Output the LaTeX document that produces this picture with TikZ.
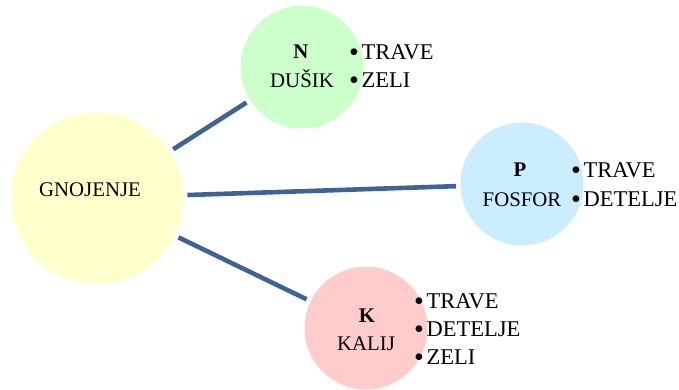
\documentclass[tikz,border=0pt]{standalone}
\usepackage{fontspec}
\setmainfont{Liberation Serif}
\begin{document}
\begin{tikzpicture}[x=1pt,y=-1pt,
  blob/.style={circle,draw=none,inner sep=0pt,outer sep=4.5pt,minimum size=#1},
  link/.style={draw={rgb,255:red,64;green,99;blue,151},line width=4.6pt},
  inner/.style={inner sep=0pt,anchor=base,font=\fontsize{20.8}{24}\selectfont},
  item/.style={inner sep=0pt,anchor=base west,font=\fontsize{22.5}{26}\selectfont}]
\useasboundingbox (0,0) rectangle (679,390);
\definecolor{cyellow}{RGB}{255,255,204}
\definecolor{cgreen}{RGB}{204,255,204}
\definecolor{cblue}{RGB}{204,236,255}
\definecolor{cpink}{RGB}{255,204,204}
% circles
\node[blob=172pt,fill=cyellow] (g) at (97,198) {};
\node[blob=123pt,fill=cgreen] (n) at (302,67) {};
\node[blob=123pt,fill=cblue] (p) at (522,184) {};
\node[blob=123pt,fill=cpink] (k) at (366,328) {};
% connectors
\draw[link] (g) -- (n);
\draw[link] (g) -- (p);
\draw[link] (g) -- (k);
% circle labels
\node[inner] (gt) at (90,196) {GNOJENJE};
\node[inner] (nt) at (301,59) {\textbf{N}};
\node[inner] (ns) at (302,88) {DUŠIK};
\node[inner] (pt) at (520,176) {\textbf{P}};
\node[inner] (ps) at (522,206) {FOSFOR};
\node[inner] (kt) at (367,322) {\textbf{K}};
\node[inner] (ks) at (366,350) {KALIJ};
% bullet lists
\newcommand{\dotitem}{\raisebox{-2pt}{\scalebox{1.25}{•}}\hspace{2.5pt}}
\node[item] (n1) at (349,60) {\dotitem TRAVE};
\node[item] (n2) at (349,88) {\dotitem ZELI};
\node[item] (p1) at (571,177) {\dotitem TRAVE};
\node[item] (p2) at (571,206) {\dotitem DETELJE};
\node[item] (k1) at (414,308) {\dotitem TRAVE};
\node[item] (k2) at (414,336) {\dotitem DETELJE};
\node[item] (k3) at (414,364) {\dotitem ZELI};
\end{tikzpicture}
\end{document}
